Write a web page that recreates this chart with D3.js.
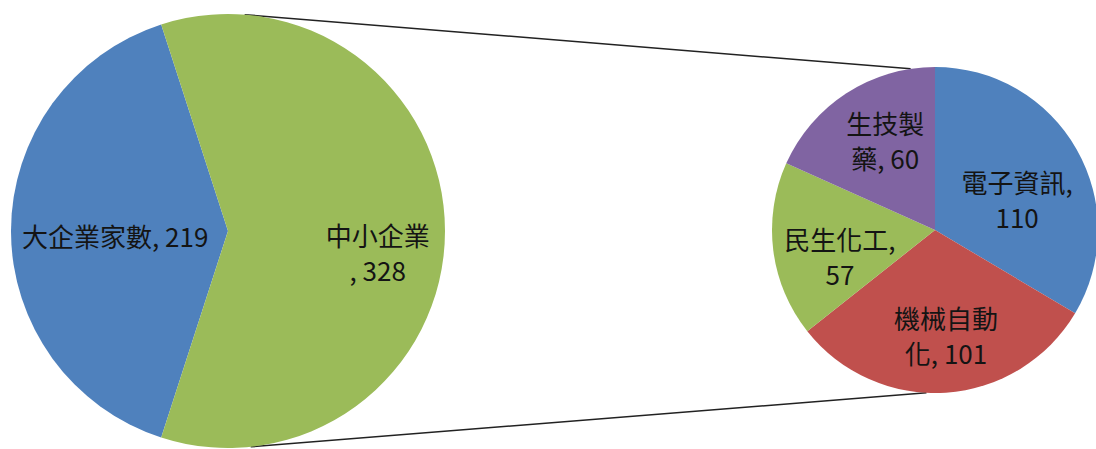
<!DOCTYPE html>
<html>
<head>
<meta charset="utf-8">
<script src="https://cdn.jsdelivr.net/npm/d3@7"></script>
<style>
  html, body { margin: 0; padding: 0; background: #fff; }
  svg text { font-family: "Noto Sans CJK TC", "Noto Sans CJK SC", sans-serif; }
</style>
</head>
<body>
<div id="chart"></div>
<script>
// main pie
const mainCats = ['大企業家數', '中小企業'];
const mainValues = [219, 328];
// secondary pie (breakdown of 中小企業)
const subCats = ['電子資訊', '機械自動化', '民生化工', '生技製藥'];
const subValues = [110, 101, 57, 60];

const mainColors = ['#4F81BD', '#9BBB59'];
const subColors = ['#4F81BD', '#C0504D', '#9BBB59', '#8064A2'];

// where each label wraps (chars of "name, value" on line one); null = one line
const mainWrap = [null, 4];
const subWrap = [5, 4, 5, 3];

const width = 1096, height = 449;
const rad = Math.PI / 180;

const left = {cx: 228, cy: 231, r: 217};
const right = {cx: 935, cy: 230, r: 163};

// label placement: fraction of radius along mid angle, then a small nudge
const mainLabelPos = [[0.52, 0, 4], [0.69, 0, 21]];
const subLabelPos = [[0.53, 7, 12], [0.645, 4, 0], [0.6, 2, 14], [0.63, 6, -4]];

const svg = d3.select('#chart')
  .append('svg')
  .attr('width', width)
  .attr('height', height);

const mainTotal = d3.sum(mainValues);
const bigSpan = mainValues[0] / mainTotal * 2 * Math.PI;
const mainStart = -Math.PI / 2 - bigSpan / 2;

const mainPie = d3.pie().sort(null)
  .startAngle(mainStart)
  .endAngle(mainStart + 2 * Math.PI);
const subPie = d3.pie().sort(null);

function drawPie(g, pie, values, cats, colors, wraps, pos, geo) {
  const arcs = pie(values);
  const arc = d3.arc().innerRadius(0).outerRadius(geo.r);
  const grp = g.append('g').attr('transform', `translate(${geo.cx},${geo.cy})`);

  grp.selectAll('path')
    .data(arcs)
    .enter().append('path')
      .attr('d', arc)
      .attr('fill', (d, i) => colors[i]);

  const lbl = grp.selectAll('text')
    .data(arcs)
    .enter().append('text')
      .attr('text-anchor', 'middle')
      .style('font-size', '26px')
      .style('fill', '#141414')
      .attr('transform', (d, i) => {
        const a = (d.startAngle + d.endAngle) / 2;
        const rr = geo.r * pos[i][0];
        const x = Math.sin(a) * rr + pos[i][1];
        const y = -Math.cos(a) * rr + pos[i][2];
        return `translate(${x},${y})`;
      });

  lbl.each(function (d, i) {
    const full = `${cats[i]}, ${values[i]}`;
    const n = wraps[i];
    const lines = n == null ? [full] : [full.slice(0, n).trim(), full.slice(n).trim()];
    const lh = 35;
    d3.select(this).selectAll('tspan')
      .data(lines)
      .enter().append('tspan')
        .attr('x', 0)
        .attr('y', (t, j) => (j - (lines.length - 1) / 2) * lh)
        .attr('dominant-baseline', 'central')
        .text(t => t);
  });
}

// connector lines between the pies
const connectors = [[4.4, -8.6], [174, 183]];
svg.selectAll('line.conn')
  .data(connectors)
  .enter().append('line')
    .attr('class', 'conn')
    .attr('x1', d => left.cx + Math.sin(d[0] * rad) * left.r)
    .attr('y1', d => left.cy - Math.cos(d[0] * rad) * left.r)
    .attr('x2', d => right.cx + Math.sin(d[1] * rad) * right.r)
    .attr('y2', d => right.cy - Math.cos(d[1] * rad) * right.r)
    .attr('stroke', '#222')
    .attr('stroke-width', 1.5);

drawPie(svg, mainPie, mainValues, mainCats, mainColors, mainWrap, mainLabelPos, left);
drawPie(svg, subPie, subValues, subCats, subColors, subWrap, subLabelPos, right);
</script>
</body>
</html>
